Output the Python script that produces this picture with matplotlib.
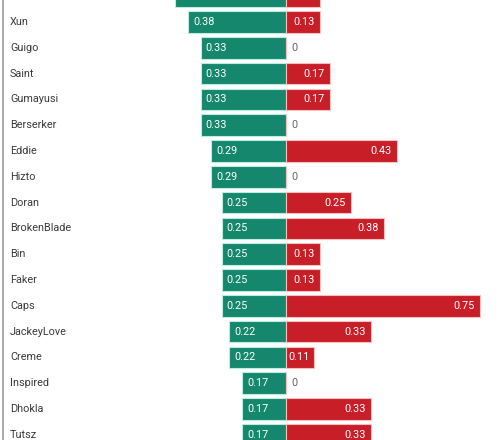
import matplotlib.pyplot as plt
from matplotlib.transforms import blended_transform_factory

# 데이터 (위 → 아래 순서, 첫 행은 잘려서 이름과 값이 안 보임)
players = ['', 'Xun', 'Guigo', 'Saint', 'Gumayusi', 'Berserker', 'Eddie', 'Hizto',
           'Doran', 'BrokenBlade', 'Bin', 'Faker', 'Caps', 'JackeyLove', 'Creme',
           'Inspired', 'Dhokla', 'Tutsz']
green_vals = [0.43, 0.38, 0.33, 0.33, 0.33, 0.33, 0.29, 0.29,
              0.25, 0.25, 0.25, 0.25, 0.25, 0.22, 0.22,
              0.17, 0.17, 0.17]
red_vals = [0.13, 0.13, 0, 0.17, 0.17, 0, 0.43, 0,
            0.25, 0.38, 0.13, 0.13, 0.75, 0.33, 0.11,
            0, 0.33, 0.33]

GREEN = '#14876c'
RED = '#c81e28'
PX = 258.0  # px per unit

fig = plt.figure(figsize=(5, 4.4), dpi=100)
ax = fig.add_axes([0, 0, 1, 1])
ax.set_xlim(-286 / PX, 214 / PX)
ax.set_ylim(443.8 / 25.8, 3.8 / 25.8)
ax.axis('off')

ys = list(range(len(players)))
ax.barh(ys, [-v for v in green_vals], height=0.84, color=GREEN,
        edgecolor='#b8eee0', linewidth=0.8)
ax.barh(ys, red_vals, height=0.84, color=RED,
        edgecolor='#f6c0c0', linewidth=0.8)

dx = 5 / PX
for y, name, g, r in zip(ys, players, green_vals, red_vals):
    if not name:
        continue  # 잘린 첫 행: 라벨 없음
    ax.text(-g + dx, y, f'{g:.2f}', color='white', fontsize=7.8,
            ha='left', va='center', family='Roboto')
    if r > 0:
        ax.text(r - dx, y, f'{r:.2f}', color='white', fontsize=7.8,
                ha='right', va='center', family='Roboto')
    else:
        ax.text(dx, y, '0', color='#666666', fontsize=7.8,
                ha='left', va='center', family='Roboto')

trans = blended_transform_factory(ax.transAxes, ax.transData)
for y, name in zip(ys, players):
    if name:
        ax.text(10 / 500, y, name, color='#3a3a3a', fontsize=7.8,
                ha='left', va='center', transform=trans, family='Roboto')

ax.plot([2.5 / 500, 2.5 / 500], [0, 1], transform=ax.transAxes,
        color='#999999', linewidth=1.2)

fig.savefig('out.png', dpi=100)
